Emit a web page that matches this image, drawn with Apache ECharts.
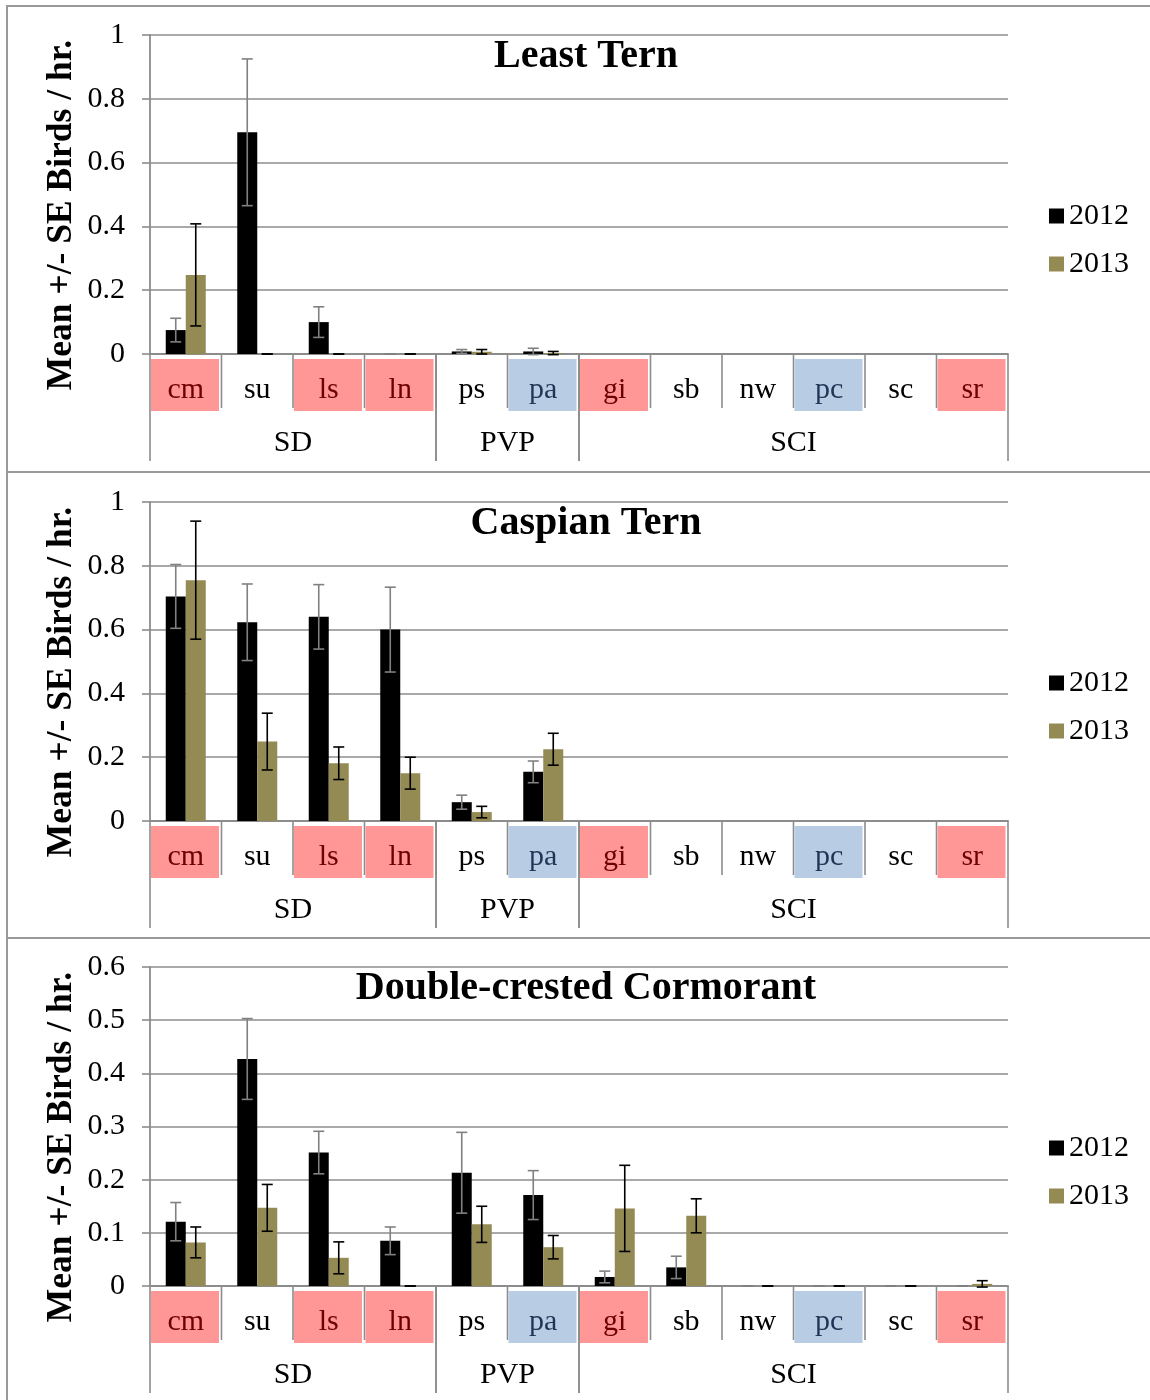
<!DOCTYPE html>
<html><head><meta charset="utf-8">
<script src="https://cdn.jsdelivr.net/npm/echarts@6/dist/echarts.min.js"></script>
<style>html,body{margin:0;padding:0;background:#fff}#c{width:1150px;height:1400px}</style>
</head><body><div id="c"></div>
<script>
// ---------------- DATA ----------------
const categories = ['cm','su','ls','ln','ps','pa','gi','sb','nw','pc','sc','sr'];
// site highlight: 0 = none, 1 = red site, 2 = blue site
const siteHighlight = [1,0,1,1,0,2,1,0,0,2,0,1];
const groupNames = ['SD','PVP','SCI'];
const groupSizes = [4,2,6];
const titles = ['Least Tern','Caspian Tern','Double-crested Cormorant'];
const seriesNames = ['2012','2013'];
const yAxisName = 'Mean +/- SE Birds / hr.';
const yMax = [1, 1, 0.6];
const yStep = [0.2, 0.2, 0.1];

const leastTern2012   = [0.075,0.695,0.100,0,0.008,0.008,null,null,null,null,null,null];
const leastTern2012SE = [0.037,0.230,0.048,0,0.006,0.010,null,null,null,null,null,null];
const leastTern2013   = [0.248,0,0,0,0.007,0.003,null,null,null,null,null,null];
const leastTern2013SE = [0.160,0,0,0,0.007,0.005,null,null,null,null,null,null];

const caspian2012   = [0.704,0.623,0.640,0.600,0.059,0.154,null,null,null,null,null,null];
const caspian2012SE = [0.100,0.120,0.101,0.133,0.022,0.034,null,null,null,null,null,null];
const caspian2013   = [0.755,0.249,0.181,0.150,0.028,0.225,null,null,null,null,null,null];
const caspian2013SE = [0.185,0.089,0.051,0.050,0.018,0.050,null,null,null,null,null,null];

const cormorant2012   = [0.121,0.427,0.251,0.085,0.213,0.171,0.017,0.035,0,0,0,0];
const cormorant2012SE = [0.036,0.076,0.040,0.026,0.076,0.046,0.011,0.021,0,0,0,0];
const cormorant2013   = [0.082,0.147,0.053,0,0.116,0.073,0.146,0.132,0,0,0,0.004];
const cormorant2013SE = [0.029,0.044,0.030,0,0.034,0.022,0.081,0.032,0,0,0,0.006];

const panels = [
  [leastTern2012, leastTern2012SE, leastTern2013, leastTern2013SE],
  [caspian2012, caspian2012SE, caspian2013, caspian2013SE],
  [cormorant2012, cormorant2012SE, cormorant2013, cormorant2013SE]
];

// ---------------- STYLE ----------------
const FONT = '"Liberation Serif","Times New Roman",serif';
const GRAY = '#8c8c8c';
const C2012 = '#000000', C2013 = '#948A54';
const gridTops = [35, 502, 967];
const GRID_LEFT = 150, GRID_W = 858, GRID_H = 319;
const LABEL_FS = 30;

function errRender(offset, color) {
  return function (params, api) {
    const i = api.value(0), v = api.value(1), se = api.value(2);
    if (isNaN(v) || isNaN(se)) return null;
    const t = api.coord([i, v + se]);
    const b = api.coord([i, v - se]);
    const x = t[0] + offset, cap = 5.5;
    const st = { stroke: color, lineWidth: 1.6 };
    return { type: 'group', children: [
      { type: 'line', shape: { x1: x, y1: t[1], x2: x, y2: b[1] }, style: st },
      { type: 'line', shape: { x1: x - cap, y1: t[1], x2: x + cap, y2: t[1] }, style: st },
      { type: 'line', shape: { x1: x - cap, y1: b[1], x2: x + cap, y2: b[1] }, style: st }
    ]};
  };
}

function catRender(params, api) {
  const i = api.value(0), hl = api.value(2);
  const c = api.coord([i, 0]);
  const bw = api.size([1, 0])[0];
  const x0 = c[0] - bw / 2, y0 = c[1];
  const ch = [];
  if (hl === 1 || hl === 2) {
    ch.push({ type: 'rect', shape: { x: x0 + 1, y: y0 + 5, width: bw - 3.5, height: 52 },
      style: { fill: hl === 1 ? '#FF9797' : '#B8CCE4' } });
  }
  ch.push({ type: 'text', style: { text: categories[i], x: c[0], y: y0 + 36, align: 'center',
    verticalAlign: 'middle', fontFamily: FONT, fontSize: LABEL_FS,
    fill: hl === 1 ? '#700000' : (hl === 2 ? '#1f3556' : '#000') } });
  if (i < categories.length - 1) {
    ch.push({ type: 'line', shape: { x1: x0 + bw, y1: y0, x2: x0 + bw, y2: y0 + 54 },
      style: { stroke: GRAY, lineWidth: 1.6 } });
  }
  return { type: 'group', children: ch };
}

function groupRender(params, api) {
  const s = api.value(0), n = api.value(2), g = api.value(3);
  const bw = api.size([1, 0])[0];
  const c1 = api.coord([s, 0]);
  const c2 = api.coord([s + n - 1, 0]);
  const xl = c1[0] - bw / 2, xr = c2[0] + bw / 2, y0 = c1[1];
  const st = { stroke: GRAY, lineWidth: 1.6 };
  return { type: 'group', children: [
    { type: 'line', shape: { x1: xl, y1: y0, x2: xl, y2: y0 + 107 }, style: st },
    { type: 'line', shape: { x1: xr, y1: y0, x2: xr, y2: y0 + 107 }, style: st },
    { type: 'text', style: { text: groupNames[g], x: (xl + xr) / 2, y: y0 + 89, align: 'center',
      verticalAlign: 'middle', fontFamily: FONT, fontSize: LABEL_FS, fill: '#000' } }
  ]};
}

const groupData = [];
{ let s = 0; groupSizes.forEach((n, g) => { groupData.push([s, 0, n, g]); s += n; }); }

const option = {
  animation: false,
  backgroundColor: '#fff',
  title: [], grid: [], xAxis: [], yAxis: [], legend: [], series: [], graphic: []
};

panels.forEach((p, k) => {
  const top = gridTops[k];
  option.grid.push({ left: GRID_LEFT, top: top, width: GRID_W, height: GRID_H });
  option.title.push({ text: titles[k], left: 581, top: top - 3, textAlign: 'center',
    textStyle: { fontFamily: FONT, fontWeight: 'bold', fontSize: 40, color: '#000' } });
  option.xAxis.push({ type: 'category', gridIndex: k, data: categories,
    axisLine: { lineStyle: { color: GRAY, width: 1.8 } },
    axisTick: { show: false }, axisLabel: { show: false }, splitLine: { show: false } });
  option.yAxis.push({ type: 'value', gridIndex: k, min: 0, max: yMax[k], interval: yStep[k],
    axisLine: { show: true, lineStyle: { color: GRAY, width: 1.8 } },
    axisTick: { show: true, length: 8, lineStyle: { color: GRAY, width: 1.6 } },
    splitLine: { lineStyle: { color: GRAY, width: 1.6 } },
    axisLabel: { fontFamily: FONT, fontSize: LABEL_FS, color: '#000', margin: 25 } });
  option.legend.push({ data: seriesNames, orient: 'vertical', left: 1049, top: top + 166,
    padding: 0, itemWidth: 15, itemHeight: 15, itemGap: 18, icon: 'rect',
    textStyle: { fontFamily: FONT, fontSize: LABEL_FS, color: '#000' } });
  option.series.push(
    { type: 'bar', name: seriesNames[0], xAxisIndex: k, yAxisIndex: k, data: p[0],
      barWidth: 20, barGap: 0, itemStyle: { color: C2012 } },
    { type: 'bar', name: seriesNames[1], xAxisIndex: k, yAxisIndex: k, data: p[2],
      barWidth: 20, barGap: 0, itemStyle: { color: C2013 } },
    { type: 'custom', name: seriesNames[0], xAxisIndex: k, yAxisIndex: k, z: 5,
      renderItem: errRender(-10, '#808080'), encode: { x: 0, y: 1 },
      data: p[0].map((v, i) => [i, v, p[1][i]]).filter(d => d[1] != null && d[2] != null) },
    { type: 'custom', name: seriesNames[1], xAxisIndex: k, yAxisIndex: k, z: 5,
      renderItem: errRender(10, '#000000'), encode: { x: 0, y: 1 },
      data: p[2].map((v, i) => [i, v, p[3][i]]).filter(d => d[1] != null && d[2] != null) },
    { type: 'custom', xAxisIndex: k, yAxisIndex: k, clip: false, silent: true,
      renderItem: catRender, encode: { x: 0, y: 1 },
      data: categories.map((c, i) => [i, 0, siteHighlight[i]]) },
    { type: 'custom', xAxisIndex: k, yAxisIndex: k, clip: false, silent: true,
      renderItem: groupRender, encode: { x: 0, y: 1 }, data: groupData }
  );
  option.graphic.push({ type: 'text', x: 62, y: top + 180, rotation: Math.PI / 2,
    style: { text: yAxisName, align: 'center', verticalAlign: 'middle',
      fontFamily: FONT, fontWeight: 'bold', fontSize: 35.5, fill: '#000' } });
});

// panel frames
[6, 472, 938].forEach(y => option.graphic.push({ type: 'line',
  shape: { x1: 6, y1: y, x2: 1150, y2: y }, style: { stroke: '#999', lineWidth: 2 } }));
option.graphic.push({ type: 'line', shape: { x1: 7, y1: 6, x2: 7, y2: 1400 },
  style: { stroke: '#999', lineWidth: 2 } });

const chart = echarts.init(document.getElementById('c'), null, { renderer: 'canvas' });
chart.setOption(option);
</script></body></html>
